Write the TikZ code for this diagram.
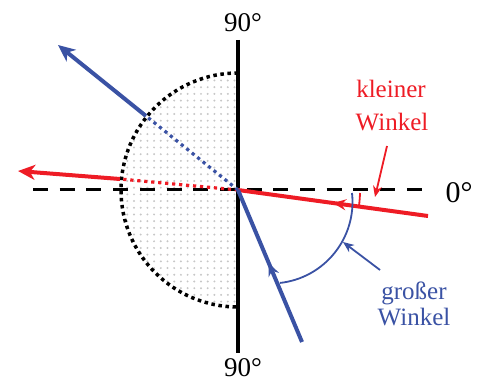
\documentclass[tikz,border=0pt]{standalone}
\usepackage{fontspec}
\setmainfont{Liberation Serif}
\usetikzlibrary{arrows.meta,patterns.meta,decorations.markings}
\definecolor{myblue}{HTML}{3A52A4}
\definecolor{myred}{HTML}{EE1C25}
\begin{document}
\begin{tikzpicture}[x=1pt,y=-1pt,
  axisline/.style={line width=3.5pt,black},
  dashline/.style={line width=3pt,black,dash pattern=on 15pt off 11.7pt},
  dotline/.style={line width=3.5pt,black,dash pattern=on 3.5pt off 3.6pt},
  rayred/.style={line width=4pt,myred},
  rayblue/.style={line width=4pt,myblue},
  raydotred/.style={line width=3.2pt,myred,dash pattern=on 3.2pt off 3.8pt},
  raydotblue/.style={line width=3.2pt,myblue,dash pattern=on 3.2pt off 3.8pt},
  endtip/.style={-{Stealth[length=17pt,width=15pt,inset=5pt]}},
  midtip/.style={decoration={markings,mark=at position #1 with {\arrow{Stealth[length=13pt,width=11pt,inset=4.5pt]}}},postaction={decorate}},
  thinred/.style={line width=1.8pt,myred},
  thinblue/.style={line width=1.8pt,myblue},
  thintip/.style={-{Stealth[length=11pt,width=9pt,inset=3.5pt]}},
  lbl/.style={anchor=base,inner sep=0pt,font=\fontsize{25}{25}\selectfont},
  deg/.style={anchor=base,inner sep=0pt}
]
\useasboundingbox (0,0) rectangle (482,382);
% coordinates
\coordinate (O) at (238,190);
\coordinate (T) at (238,73);
\coordinate (vt) at (238,40);
\coordinate (vb) at (238,353);
\coordinate (dL) at (33,190);
\coordinate (dR) at (425,190);
\coordinate (rs) at (428,216);
\coordinate (rc) at (120,179);
\coordinate (rt) at (18,171);
\coordinate (bs) at (302,342);
\coordinate (bc) at (146,116);
\coordinate (bt) at (58,45);
\coordinate (ba) at (352,193);
\coordinate (rk) at (360,193);
\coordinate (ka) at (387,146);
\coordinate (kb) at (375,197);
\coordinate (ga) at (380,270);
\coordinate (gb) at (343,242);
% half disc fill
\fill[pattern={Dots[radius=1.1pt,distance=6.7pt]},pattern color=black!22]
  (T) arc[start angle=-90,end angle=-270,radius=117] -- cycle;
% dashed 0 deg line
\draw[dashline] (dL) -- (dR);
% dotted boundary
\draw[dotline] (T) arc[start angle=-90,end angle=-270,radius=117];
% vertical axis
\draw[axisline] (vt) -- (vb);
% red ray
\draw[raydotred] (O) -- (rc);
\draw[rayred,endtip] (rc) -- (rt);
\draw[rayred,midtip=0.5] (rs) -- (O);
% blue ray
\draw[raydotblue] (O) -- (bc);
\draw[rayblue,endtip] (bc) -- (bt);
\draw[rayblue,midtip=0.52] (bs) -- (O);
% angle arcs
\draw[thinblue] (ba) arc[start angle=-6.3,end angle=83.7,radius=81.5];
\draw[thinred] (rk) arc[start angle=1.5,end angle=7.9,radius=122];
% pointer arrows
\draw[thinred,thintip] (ka) -- (kb);
\draw[thinblue,thintip] (ga) -- (gb);
% labels
\node[deg,font=\fontsize{27}{27}\selectfont] (l90t) at (243,32) {90°};
\node[deg,font=\fontsize{27}{27}\selectfont] (l90b) at (243,376) {90°};
\node[deg,font=\fontsize{30}{30}\selectfont] (l0) at (459,203) {0°};
\node[lbl,text=myred] (kl1) at (391,98) {kleiner};
\node[lbl,text=myred] (kl2) at (392,131) {Winkel};
\node[lbl,text=myblue] (gr1) at (414,299) {großer};
\node[lbl,text=myblue] (gr2) at (414,325) {Winkel};
\end{tikzpicture}
\end{document}
